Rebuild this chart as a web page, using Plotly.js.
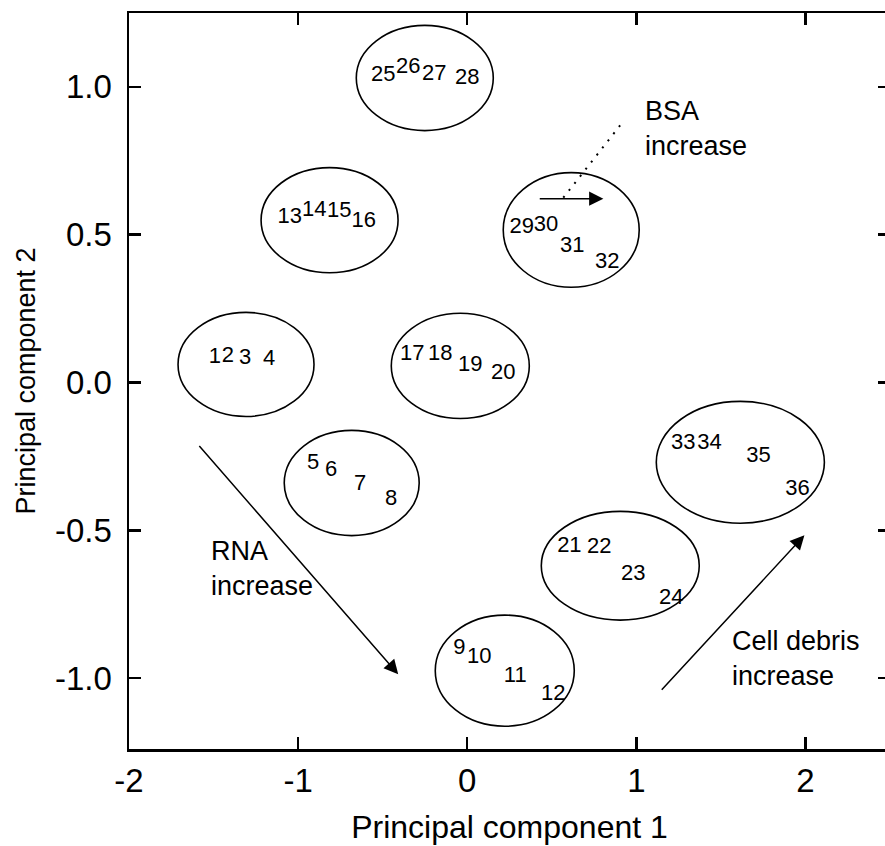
<!DOCTYPE html>
<html>
<head>
<meta charset="utf-8">
<script src="https://cdn.plot.ly/plotly-3.0.1.min.js"></script>
<style>
html,body{margin:0;padding:0;overflow:hidden;background:#fff;}
#chart{width:895px;height:846px;}
</style>
</head>
<body>
<div id="chart"></div>
<script>
// Sample labels and their positions (PC1, PC2)
const sampleLabels = ["1","2","3","4","5","6","7","8","9","10","11","12",
  "13","14","15","16","17","18","19","20","21","22","23","24",
  "25","26","27","28","29","30","31","32","33","34","35","36"];
const pc1 = [-1.492,-1.416,-1.314,-1.172, -0.911,-0.805,-0.633,-0.450, -0.047,0.071,0.284,0.509,
  -1.050,-0.905,-0.757,-0.612, -0.325,-0.160,0.018,0.213, 0.604,0.781,0.982,1.207,
  -0.497,-0.349,-0.195,0.000, 0.322,0.466,0.621,0.828, 1.278,1.432,1.722,1.953];
const pc2 = [0.085,0.088,0.081,0.078, -0.274,-0.298,-0.345,-0.396, -0.899,-0.930,-0.994,-1.055,
  0.558,0.582,0.578,0.544, 0.095,0.095,0.057,0.030, -0.555,-0.558,-0.649,-0.730,
  1.038,1.065,1.041,1.028, 0.524,0.531,0.460,0.406, -0.206,-0.206,-0.250,-0.362];

// Group ellipses: centre and semi-axes in data units
const ellCx = [-1.308,-0.683,0.222,-0.814,-0.041,0.905,-0.251,0.615,1.615];
const ellCy = [0.061,-0.340,-0.975,0.549,0.056,-0.620,1.030,0.516,-0.270];
const ellRx = [0.402,0.399,0.411,0.405,0.408,0.467,0.405,0.402,0.497];
const ellRy = [0.176,0.178,0.188,0.178,0.178,0.184,0.178,0.194,0.206];

// Trend arrows: tail (x0,y0) -> head (x1,y1)
const arrowNames = ["RNA","Cell debris","BSA"];
const arrowX0 = [-1.592, 1.142, 0.420];
const arrowY0 = [-0.210, -1.045, 0.622];
const arrowX1 = [-0.408, 1.994, 0.805];
const arrowY1 = [-0.987, -0.517, 0.622];

// Dotted leader line for BSA
const leaderX = [0.568, 0.917];
const leaderY = [0.625, 0.879];

// Annotation texts and anchor positions (left edge, centre)
const noteTexts = ["BSA<br>increase","RNA<br>increase","Cell debris<br>increase"];
const noteX = [1.040, -1.527, 1.556];
const noteY = [0.858, -0.631, -0.935];

const xTicks = [-2,-1,0,1,2];
const xTickText = ["-2","-1","0","1","2"];
const yTicks = [-1.0,-0.5,0.0,0.5,1.0];
const yTickText = ["-1.0","-0.5","0.0","0.5","1.0"];

const FONT = "Liberation Sans, Arial, Helvetica, sans-serif";

const shapes = [];
for (let i = 0; i < ellCx.length; i++) {
  shapes.push({type:"circle", xref:"x", yref:"y",
    x0: ellCx[i]-ellRx[i], x1: ellCx[i]+ellRx[i],
    y0: ellCy[i]-ellRy[i], y1: ellCy[i]+ellRy[i],
    line:{color:"#000", width:1.6}, fillcolor:"rgba(0,0,0,0)"});
}
shapes.push({type:"line", xref:"x", yref:"y", x0:leaderX[0], y0:leaderY[0], x1:leaderX[1], y1:leaderY[1],
  line:{color:"#000", width:2, dash:"2px,7px"}});

const annotations = [];
for (let i = 0; i < arrowNames.length; i++) {
  annotations.push({x: arrowX1[i], y: arrowY1[i], ax: arrowX0[i], ay: arrowY0[i],
    xref:"x", yref:"y", axref:"x", ayref:"y", text:"", showarrow:true,
    arrowhead:2, arrowsize:1.9, arrowwidth:1.5, arrowcolor:"#000", standoff:0, startstandoff:0});
}
for (let i = 0; i < noteTexts.length; i++) {
  annotations.push({x: noteX[i], y: noteY[i], xref:"x", yref:"y", text: noteTexts[i],
    showarrow:false, xanchor:"left", yanchor:"middle", align:"left",
    font:{family:FONT, size:27, color:"#000"}});
}

const trace = {
  type:"scatter", mode:"text", x: pc1, y: pc2, text: sampleLabels,
  textposition:"middle center", textfont:{family:FONT, size:22, color:"#000"},
  hoverinfo:"skip", showlegend:false, cliponaxis:false
};

const axisCommon = {
  showgrid:false, zeroline:false, showline:true, linecolor:"#000", linewidth:2.5,
  mirror:"ticks", ticks:"inside", ticklen:12, tickwidth:2.5, tickcolor:"#000",
  tickfont:{family:FONT, size:33, color:"#000"}, tickmode:"array"
};

const layout = {
  width:895, height:846,
  margin:{l:129, r:5, t:13, b:97},
  paper_bgcolor:"#fff", plot_bgcolor:"#fff",
  showlegend:false,
  xaxis: Object.assign({}, axisCommon, {
    range:[-2, 2.5], tickvals:xTicks, ticktext:xTickText, ticklabelstandoff:1,
    title:{text:"Principal component 1", font:{family:FONT, size:32, color:"#000"}, standoff:18}
  }),
  yaxis: Object.assign({}, axisCommon, {
    range:[-1.24, 1.25], tickvals:yTicks, ticktext:yTickText, ticklabelstandoff:8,
    title:{text:"Principal component 2", font:{family:FONT, size:27, color:"#000"}, standoff:12}
  }),
  shapes: shapes,
  annotations: annotations
};

Plotly.newPlot("chart", [trace], layout, {displayModeBar:false, staticPlot:true});
</script>
</body>
</html>
